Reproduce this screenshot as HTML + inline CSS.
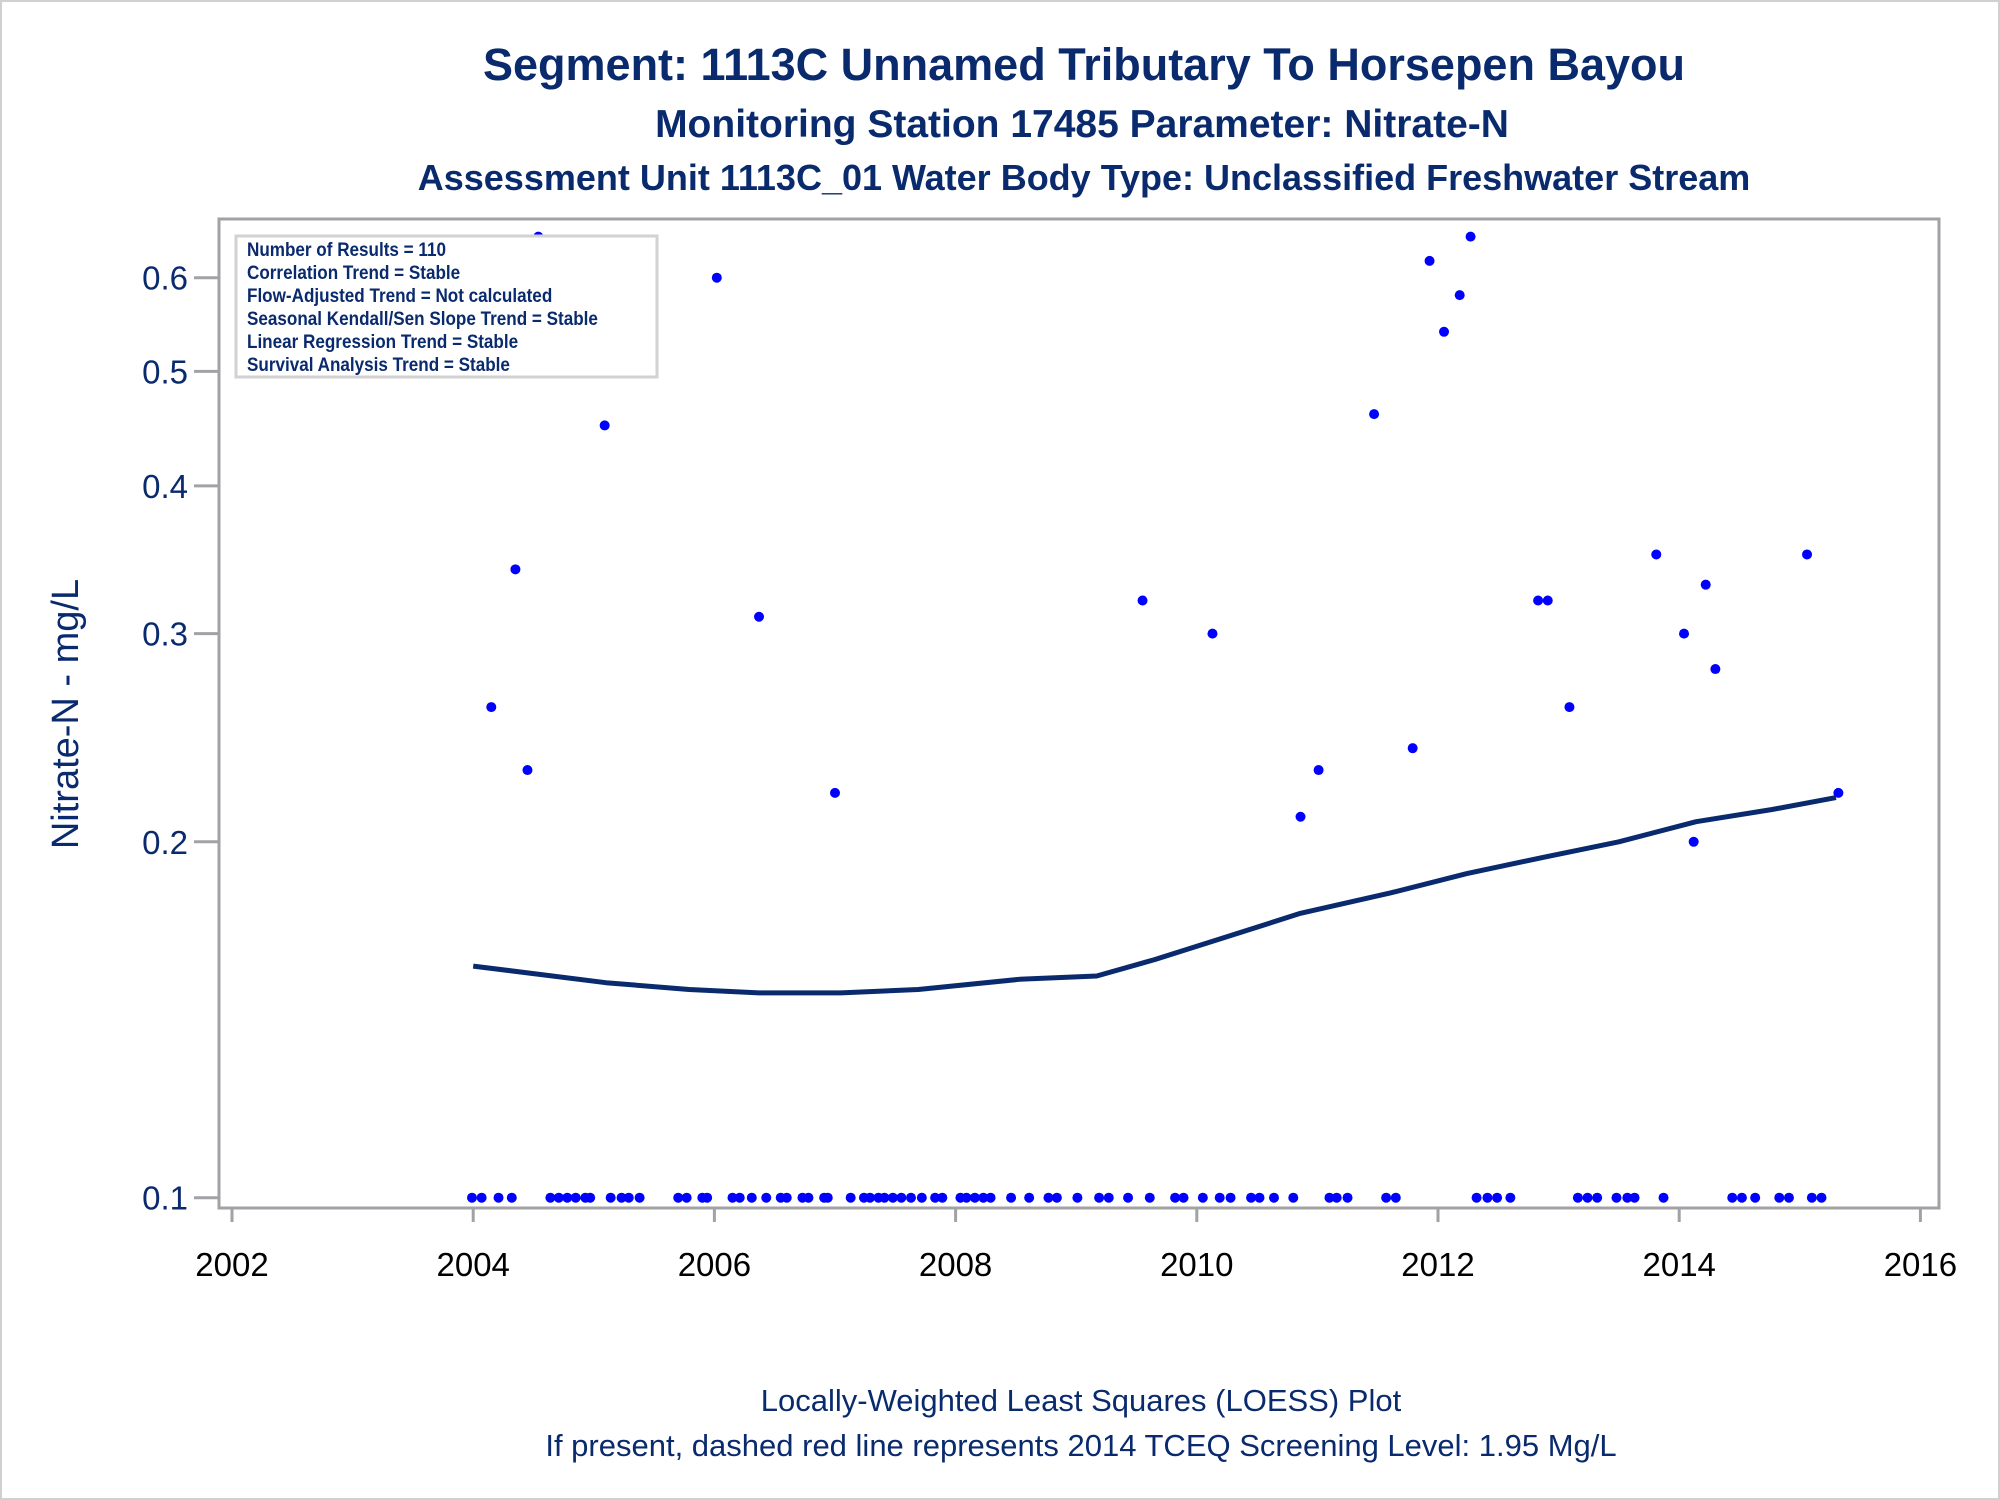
<!DOCTYPE html>
<html><head><meta charset="utf-8"><style>
html,body{margin:0;padding:0;background:#fff}
svg{display:block}
text{font-family:"Liberation Sans",Arial,sans-serif}
</style></head><body>
<svg id="chart" width="2000" height="1500" viewBox="0 0 2000 1500" xmlns="http://www.w3.org/2000/svg">
<rect x="1" y="1" width="1998" height="1498" fill="#fff" stroke="#d0d0d0" stroke-width="2"/>
<g fill="#0a2a6e" font-weight="bold" text-anchor="middle">
<text x="1084" y="80" font-size="45">Segment: 1113C  Unnamed Tributary To Horsepen Bayou</text>
<text x="1082" y="137" font-size="39">Monitoring Station 17485 Parameter: Nitrate-N</text>
<text x="1084" y="190" font-size="36">Assessment Unit 1113C_01   Water Body Type: Unclassified Freshwater Stream</text>
</g>
<g fill="#0a2a6e" font-size="31" text-anchor="middle">
<text x="1081" y="1411">Locally-Weighted Least Squares (LOESS) Plot</text>
<text x="1081" y="1456">If present, dashed red line represents 2014 TCEQ Screening Level: 1.95 Mg/L</text>
</g>
<text transform="translate(78,714) rotate(-90)" text-anchor="middle" font-size="38" fill="#0a2a6e">Nitrate-N - mg/L</text>
<rect x="219" y="219" width="1720" height="989" fill="none" stroke="#a0a2a6" stroke-width="3"/>
<g id="yaxis"></g>
<g id="xaxis"></g>
<g id="marks"></g>
<g>
<rect x="236" y="236" width="421" height="141" fill="#fff" stroke="#d2d2d2" stroke-width="3"/>
<g fill="#0a2a6e" font-weight="bold" font-size="19" transform="translate(247,0)">
<text y="256" transform="scale(0.9,1)">Number of Results = 110</text>
<text y="279" transform="scale(0.9,1)">Correlation Trend = Stable</text>
<text y="302" transform="scale(0.9,1)">Flow-Adjusted Trend = Not calculated</text>
<text y="325" transform="scale(0.9,1)">Seasonal Kendall/Sen Slope Trend = Stable</text>
<text y="348" transform="scale(0.9,1)">Linear Regression Trend = Stable</text>
<text y="371" transform="scale(0.9,1)">Survival Analysis Trend = Stable</text>
</g>
</g>
</svg>
<script>
var xTicks = [2002, 2004, 2006, 2008, 2010, 2012, 2014, 2016];
var yTicks = [0.1, 0.2, 0.3, 0.4, 0.5, 0.6];
var yTickLabels = ["0.1", "0.2", "0.3", "0.4", "0.5", "0.6"];
var highDates = [2004.15,2004.35,2004.45,2004.54,2005.09,2006.02,2006.37,2007.0,2009.55,2010.13,2010.86,2011.01,2011.47,2011.79,2011.93,2012.05,2012.18,2012.27,2012.83,2012.91,2013.09,2013.81,2014.04,2014.12,2014.22,2014.30,2015.06,2015.32];
var highValues = [0.26,0.34,0.23,0.65,0.45,0.60,0.31,0.22,0.32,0.30,0.21,0.23,0.46,0.24,0.62,0.54,0.58,0.65,0.32,0.32,0.26,0.35,0.30,0.20,0.33,0.28,0.35,0.22];
var lowDates = [2003.99,2004.07,2004.21,2004.32,2004.64,2004.71,2004.78,2004.85,2004.93,2004.97,2005.14,2005.23,2005.29,2005.38,2005.70,2005.77,2005.90,2005.94,2006.15,2006.21,2006.31,2006.43,2006.55,2006.60,2006.73,2006.78,2006.91,2006.94,2007.13,2007.24,2007.29,2007.36,2007.41,2007.48,2007.55,2007.63,2007.72,2007.83,2007.89,2008.04,2008.09,2008.16,2008.23,2008.29,2008.46,2008.61,2008.77,2008.84,2009.01,2009.19,2009.27,2009.43,2009.61,2009.82,2009.89,2010.05,2010.19,2010.28,2010.45,2010.52,2010.64,2010.80,2011.10,2011.16,2011.25,2011.57,2011.65,2012.32,2012.41,2012.49,2012.60,2013.16,2013.24,2013.32,2013.48,2013.57,2013.63,2013.87,2014.44,2014.52,2014.63,2014.83,2014.91,2015.10,2015.18];
var lowValue = 0.1;
var loessDates = [2004.0,2005.10,2005.79,2006.37,2007.05,2007.69,2008.53,2009.17,2009.65,2010.23,2010.86,2011.60,2012.24,2012.87,2013.50,2014.14,2014.77,2015.30];
var loessValues = [0.157,0.152,0.150,0.149,0.149,0.150,0.153,0.154,0.159,0.166,0.174,0.181,0.188,0.194,0.200,0.208,0.213,0.218];

var NS = "http://www.w3.org/2000/svg";
function xs(year){ return 232 + (year - 2002) * 120.6; }
function ys(v){ return 1197.7 - 355.9 * Math.log(v / 0.1) / Math.LN2; }
function mk(tag, attrs, parent){ var e = document.createElementNS(NS, tag); for (var k in attrs) e.setAttribute(k, attrs[k]); parent.appendChild(e); return e; }

var yAxis = document.getElementById('yaxis');
yTicks.forEach(function(v, i){
  var t = mk('line', {x1:194, x2:219, y1:ys(v), y2:ys(v), stroke:'#a0a2a6', 'stroke-width':3}, yAxis);
  
  
  var l = mk('text', {x:188, y:ys(v)+12, 'text-anchor':'end', 'font-size':33, fill:'#0a2a6e'}, yAxis);
  
  
  l.textContent = yTickLabels[i];
});
var xAxis = document.getElementById('xaxis');
xTicks.forEach(function(yr){
  var t = mk('line', {x1:xs(yr), x2:xs(yr), y1:1208, y2:1222, stroke:'#a0a2a6', 'stroke-width':3}, xAxis);
  
  
  var l = mk('text', {x:xs(yr), y:1276, 'text-anchor':'middle', 'font-size':33, fill:'#000'}, xAxis);
  
  
  l.textContent = String(yr);
});
var marks = document.getElementById('marks');
var pts = loessDates.map(function(d, i){ return xs(d).toFixed(1) + ',' + ys(loessValues[i]).toFixed(1); }).join(' ');
var line = mk('polyline', {points: pts, fill:'none', stroke:'#0a2a6e', 'stroke-width':5, 'stroke-linejoin':'round'}, marks);


lowDates.forEach(function(d){
  var c = mk('circle', {cx:xs(d), cy:ys(lowValue), r:5, fill:'#0000ff'}, marks);
  
  
});
highDates.forEach(function(d, i){
  var c = mk('circle', {cx:xs(d), cy:ys(highValues[i]), r:5, fill:'#0000ff'}, marks);
  
  
});
</script>
</body></html>
